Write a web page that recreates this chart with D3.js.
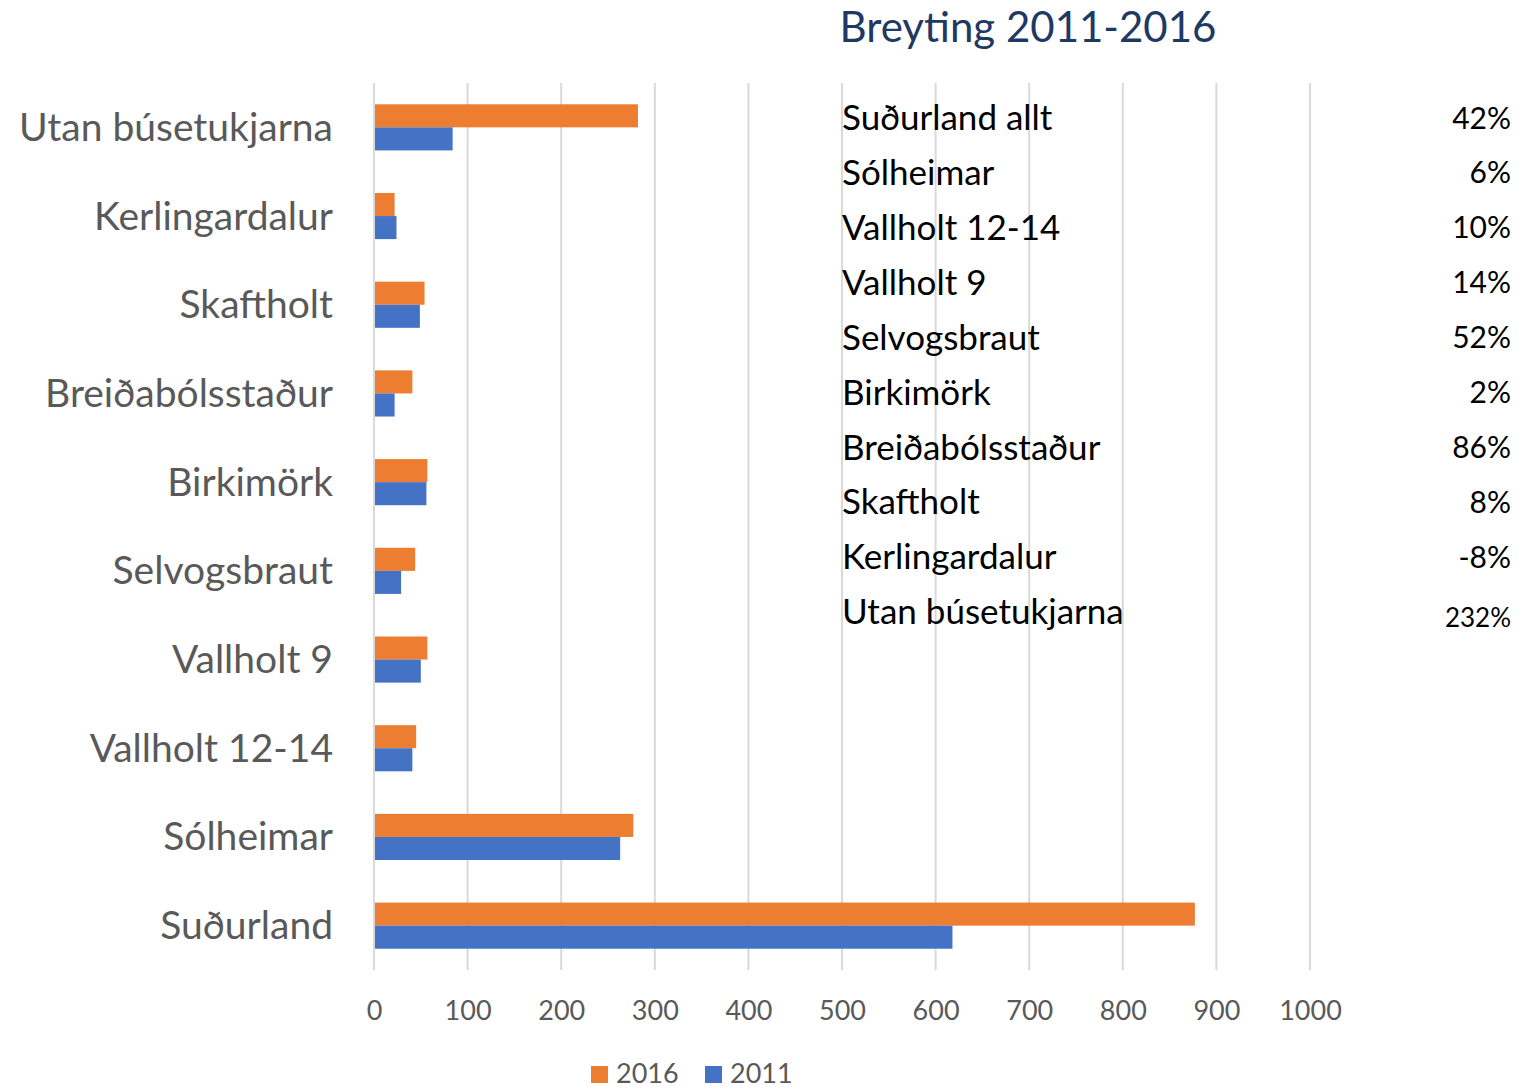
<!DOCTYPE html>
<html>
<head>
<meta charset="utf-8">
<script src="https://cdn.jsdelivr.net/npm/d3@7"></script>
<style>
  body { margin: 0; background: #fff; }
  text { font-family: Lato, "Open Sans", sans-serif; }
</style>
</head>
<body>
<div id="chart"></div>
<script>
// data, top row first
var categories = ["Utan búsetukjarna", "Kerlingardalur", "Skaftholt", "Breiðabólsstaður",
  "Birkimörk", "Selvogsbraut", "Vallholt 9", "Vallholt 12-14", "Sólheimar", "Suðurland"];
var values2016 = [282, 22, 54, 41, 57, 44, 57, 45, 277, 877];
var values2011 = [84, 24, 49, 22, 56, 29, 50, 41, 263, 618];
var xTicks = [0, 100, 200, 300, 400, 500, 600, 700, 800, 900, 1000];

var changeNames = ["Suðurland allt", "Sólheimar", "Vallholt 12-14", "Vallholt 9", "Selvogsbraut",
  "Birkimörk", "Breiðabólsstaður", "Skaftholt", "Kerlingardalur", "Utan búsetukjarna"];
var changePct = ["42%", "6%", "10%", "14%", "52%", "2%", "86%", "8%", "-8%", "232%"];

var svgWidth = 1532, svgHeight = 1091;
var orange = "#ED7D31", blue = "#4472C4", grey = "#595959";

var svg = d3.select("#chart").append("svg")
  .attr("width", svgWidth)
  .attr("height", svgHeight);

var x = d3.scaleLinear().domain([0, 1000]).range([374, 1310]);
var y = d3.scaleBand().domain(categories).range([83, 970])
  .paddingInner(0.48).paddingOuter(0.24);

// gridlines
svg.append("g")
  .selectAll("line")
  .data(xTicks)
  .enter()
  .append("line")
    .attr("x1", d => x(d)).attr("x2", d => x(d))
    .attr("y1", 83).attr("y2", 970)
    .attr("stroke", "#d9d9d9")
    .attr("stroke-width", 2);

// bars
var bh = y.bandwidth() / 2;
svg.append("g").selectAll("rect")
  .data(categories)
  .enter()
  .append("rect")
    .attr("x", x(0) + 1)
    .attr("y", d => y(d))
    .attr("width", (d, i) => x(values2016[i]) - x(0) - 1)
    .attr("height", bh)
    .attr("fill", orange);

svg.append("g").selectAll("rect")
  .data(categories)
  .enter()
  .append("rect")
    .attr("x", x(0) + 1)
    .attr("y", d => y(d) + bh)
    .attr("width", (d, i) => x(values2011[i]) - x(0) - 1)
    .attr("height", bh)
    .attr("fill", blue);

// x axis labels
var xAxis = svg.append("g")
  .attr("transform", "translate(0,1011)")
  .call(d3.axisBottom(x).tickValues(xTicks).tickFormat(d3.format("d")).tickSize(0).tickPadding(0));
xAxis.select(".domain").remove();
xAxis.selectAll("text")
  .attr("dy", "0.35em")
  .attr("font-size", "27px")
  .attr("font-family", "Lato, sans-serif")
  .attr("fill", grey);

// y axis labels
var yAxis = svg.append("g")
  .attr("transform", "translate(333,1)")
  .call(d3.axisLeft(y).tickSize(0).tickPadding(0));
yAxis.select(".domain").remove();
yAxis.selectAll("text")
  .attr("font-size", "39px")
  .attr("font-family", "Lato, sans-serif")
  .attr("fill", grey);

// title
svg.append("text")
  .attr("x", 1028).attr("y", 42)
  .attr("text-anchor", "middle")
  .attr("font-size", "42px")
  .attr("fill", "#1F3864")
  .text("Breyting 2011-2016");

// change table
var rowY = d3.scaleLinear().domain([0, 9]).range([118, 612]);
svg.append("g").selectAll("text")
  .data(changeNames)
  .enter()
  .append("text")
    .attr("x", 842)
    .attr("y", (d, i) => rowY(i))
    .attr("dy", "0.35em")
    .attr("font-size", "35px")
    .attr("fill", "#000")
    .text(d => d);

svg.append("g").selectAll("text")
  .data(changePct)
  .enter()
  .append("text")
    .attr("x", 1511)
    .attr("y", (d, i) => rowY(i) + (i === 9 ? 6 : 0))
    .attr("dy", "0.35em")
    .attr("text-anchor", "end")
    .attr("font-size", (d, i) => i === 9 ? "26px" : "30px")
    .attr("fill", "#000")
    .text(d => d);

// legend
var legend = [{name: "2016", color: orange, x: 591}, {name: "2011", color: blue, x: 705}];
var lg = svg.append("g").selectAll("g")
  .data(legend)
  .enter()
  .append("g")
    .attr("transform", d => `translate(${d.x},1066)`);
lg.append("rect")
  .attr("width", 17).attr("height", 17)
  .attr("fill", d => d.color);
lg.append("text")
  .attr("x", 25).attr("y", 8)
  .attr("dy", "0.35em")
  .attr("font-size", "27px")
  .attr("fill", grey)
  .text(d => d.name);
</script>
</body>
</html>
